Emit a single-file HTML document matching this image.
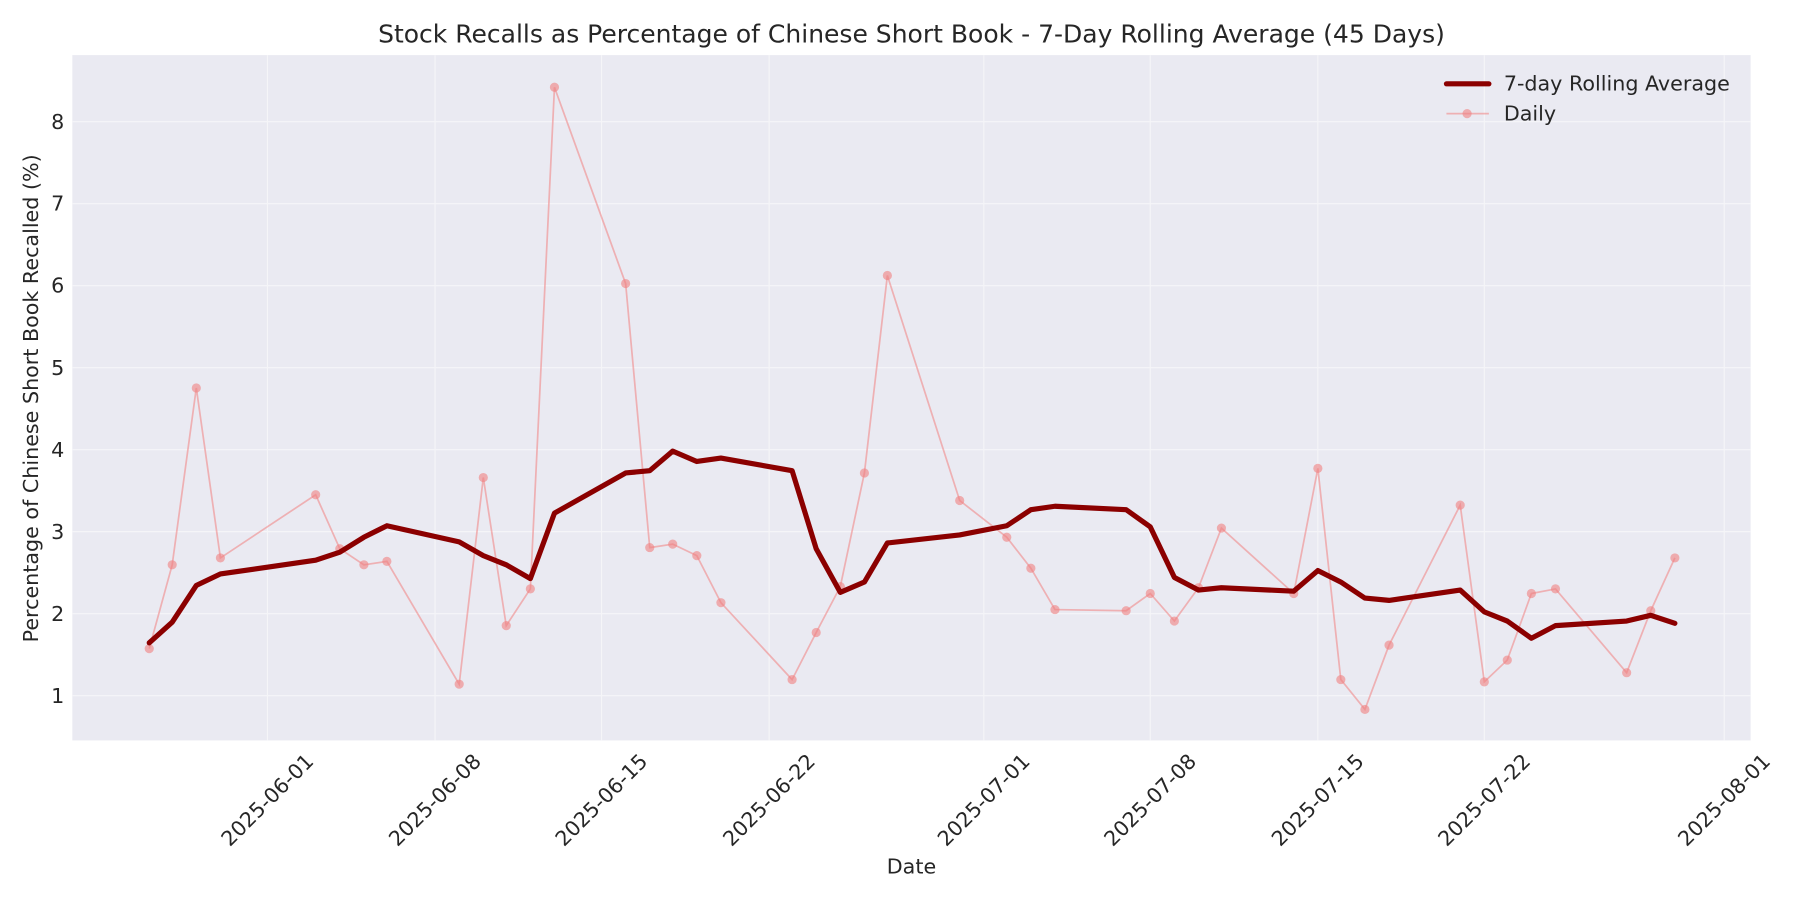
<!DOCTYPE html>
<html><head><meta charset="utf-8"><style>html,body{margin:0;padding:0;background:#fff}svg{display:block}</style></head>
<body>
<svg width="1800" height="900" viewBox="0 0 1568 784" xmlns="http://www.w3.org/2000/svg" font-family="DejaVu Sans, Liberation Sans, sans-serif" fill="#262626">
<rect x="0" y="0" width="1568" height="784" fill="#fff"/>
<rect x="63" y="48" width="1462" height="597" fill="#eaeaf2"/>
<g stroke="#f5f5f8" stroke-width="1">
<line x1="233" y1="48" x2="233" y2="645"/><line x1="379" y1="48" x2="379" y2="645"/><line x1="524" y1="48" x2="524" y2="645"/><line x1="670" y1="48" x2="670" y2="645"/><line x1="857" y1="48" x2="857" y2="645"/><line x1="1002" y1="48" x2="1002" y2="645"/><line x1="1148" y1="48" x2="1148" y2="645"/><line x1="1293" y1="48" x2="1293" y2="645"/><line x1="1502" y1="48" x2="1502" y2="645"/>
<line x1="63" y1="606" x2="1525" y2="606"/><line x1="63" y1="534.6" x2="1525" y2="534.6"/><line x1="63" y1="463.1" x2="1525" y2="463.1"/><line x1="63" y1="391.7" x2="1525" y2="391.7"/><line x1="63" y1="320.3" x2="1525" y2="320.3"/><line x1="63" y1="248.9" x2="1525" y2="248.9"/><line x1="63" y1="177.4" x2="1525" y2="177.4"/><line x1="63" y1="106" x2="1525" y2="106"/>
</g>
<g font-size="18" text-anchor="end">
<text x="56" y="612.5">1</text><text x="56" y="541">2</text><text x="56" y="469.5">3</text><text x="56" y="398">4</text><text x="56" y="326.5">5</text><text x="56" y="255">6</text><text x="56" y="183.5">7</text><text x="56" y="112.5">8</text>
</g>
<g font-size="18" text-anchor="middle">
<text transform="translate(233,697) rotate(-45)" dy="6">2025-06-01</text>
<text transform="translate(379,697) rotate(-45)" dy="6">2025-06-08</text>
<text transform="translate(524,697) rotate(-45)" dy="6">2025-06-15</text>
<text transform="translate(670,697) rotate(-45)" dy="6">2025-06-22</text>
<text transform="translate(857,697) rotate(-45)" dy="6">2025-07-01</text>
<text transform="translate(1002,697) rotate(-45)" dy="6">2025-07-08</text>
<text transform="translate(1148,697) rotate(-45)" dy="6">2025-07-15</text>
<text transform="translate(1293,697) rotate(-45)" dy="6">2025-07-22</text>
<text transform="translate(1502,697) rotate(-45)" dy="6">2025-08-01</text>
</g>
<text x="794" y="761" font-size="18" text-anchor="middle">Date</text>
<text transform="translate(33,347) rotate(-90)" font-size="18" text-anchor="middle">Percentage of Chinese Short Book Recalled (%)</text>
<text x="794" y="37" font-size="21.8" text-anchor="middle">Stock Recalls as Percentage of Chinese Short Book - 7-Day Rolling Average (45 Days)</text>
<polyline fill="none" stroke="#f08080" stroke-opacity="0.55" stroke-width="1.5" points="130,565 150,492 171,338 192,486 275,431 296,478 317,492 337,489 400,596 421,416 441,545 462,513 483,76 545,247 566,477 586,474 607,484 628,525 690,592 711,551 732,511 753,412 773,240 836,436 877,468 898,495 919,531 981,532 1002,517 1023,541 1044,512 1064,460 1127,517 1148,408 1168,592 1189,618 1210,562 1272,440 1293,594 1313,575 1334,517 1355,513 1417,586 1438,532 1459,486"/>
<g fill="#f08080" fill-opacity="0.6">
<circle cx="130" cy="565" r="4"/><circle cx="150" cy="492" r="4"/><circle cx="171" cy="338" r="4"/><circle cx="192" cy="486" r="4"/><circle cx="275" cy="431" r="4"/><circle cx="296" cy="478" r="4"/><circle cx="317" cy="492" r="4"/><circle cx="337" cy="489" r="4"/><circle cx="400" cy="596" r="4"/><circle cx="421" cy="416" r="4"/><circle cx="441" cy="545" r="4"/><circle cx="462" cy="513" r="4"/><circle cx="483" cy="76" r="4"/><circle cx="545" cy="247" r="4"/><circle cx="566" cy="477" r="4"/><circle cx="586" cy="474" r="4"/><circle cx="607" cy="484" r="4"/><circle cx="628" cy="525" r="4"/><circle cx="690" cy="592" r="4"/><circle cx="711" cy="551" r="4"/><circle cx="732" cy="511" r="4"/><circle cx="753" cy="412" r="4"/><circle cx="773" cy="240" r="4"/><circle cx="836" cy="436" r="4"/><circle cx="877" cy="468" r="4"/><circle cx="898" cy="495" r="4"/><circle cx="919" cy="531" r="4"/><circle cx="981" cy="532" r="4"/><circle cx="1002" cy="517" r="4"/><circle cx="1023" cy="541" r="4"/><circle cx="1044" cy="512" r="4"/><circle cx="1064" cy="460" r="4"/><circle cx="1127" cy="517" r="4"/><circle cx="1148" cy="408" r="4"/><circle cx="1168" cy="592" r="4"/><circle cx="1189" cy="618" r="4"/><circle cx="1210" cy="562" r="4"/><circle cx="1272" cy="440" r="4"/><circle cx="1293" cy="594" r="4"/><circle cx="1313" cy="575" r="4"/><circle cx="1334" cy="517" r="4"/><circle cx="1355" cy="513" r="4"/><circle cx="1417" cy="586" r="4"/><circle cx="1438" cy="532" r="4"/><circle cx="1459" cy="486" r="4"/>
</g>
<polyline fill="none" stroke="#8b0000" stroke-width="4.5" stroke-linejoin="round" stroke-linecap="round" points="130,560 150,542 171,510 192,500 275,488 296,481 317,468 337,458 400,472 421,484 441,492 462,504 483,447 545,412 566,410 586,393 607,402 628,399 690,410 711,478 732,516 753,507 773,473 836,466 877,458 898,444 919,441 981,444 1002,459 1023,503 1044,514 1064,512 1127,515 1148,497 1168,507 1189,521 1210,523 1272,514 1293,533 1313,541 1334,556 1355,545 1417,541 1438,536 1459,543"/>
<line x1="1260" y1="73" x2="1297" y2="73" stroke="#8b0000" stroke-width="4.5" stroke-linecap="round"/>
<text x="1310" y="79" font-size="18">7-day Rolling Average</text>
<line x1="1260" y1="99" x2="1297" y2="99" stroke="#f08080" stroke-opacity="0.55" stroke-width="1.5"/>
<circle cx="1278" cy="99" r="4" fill="#f08080" fill-opacity="0.6"/>
<text x="1310" y="105" font-size="18">Daily</text>
</svg>
</body></html>
